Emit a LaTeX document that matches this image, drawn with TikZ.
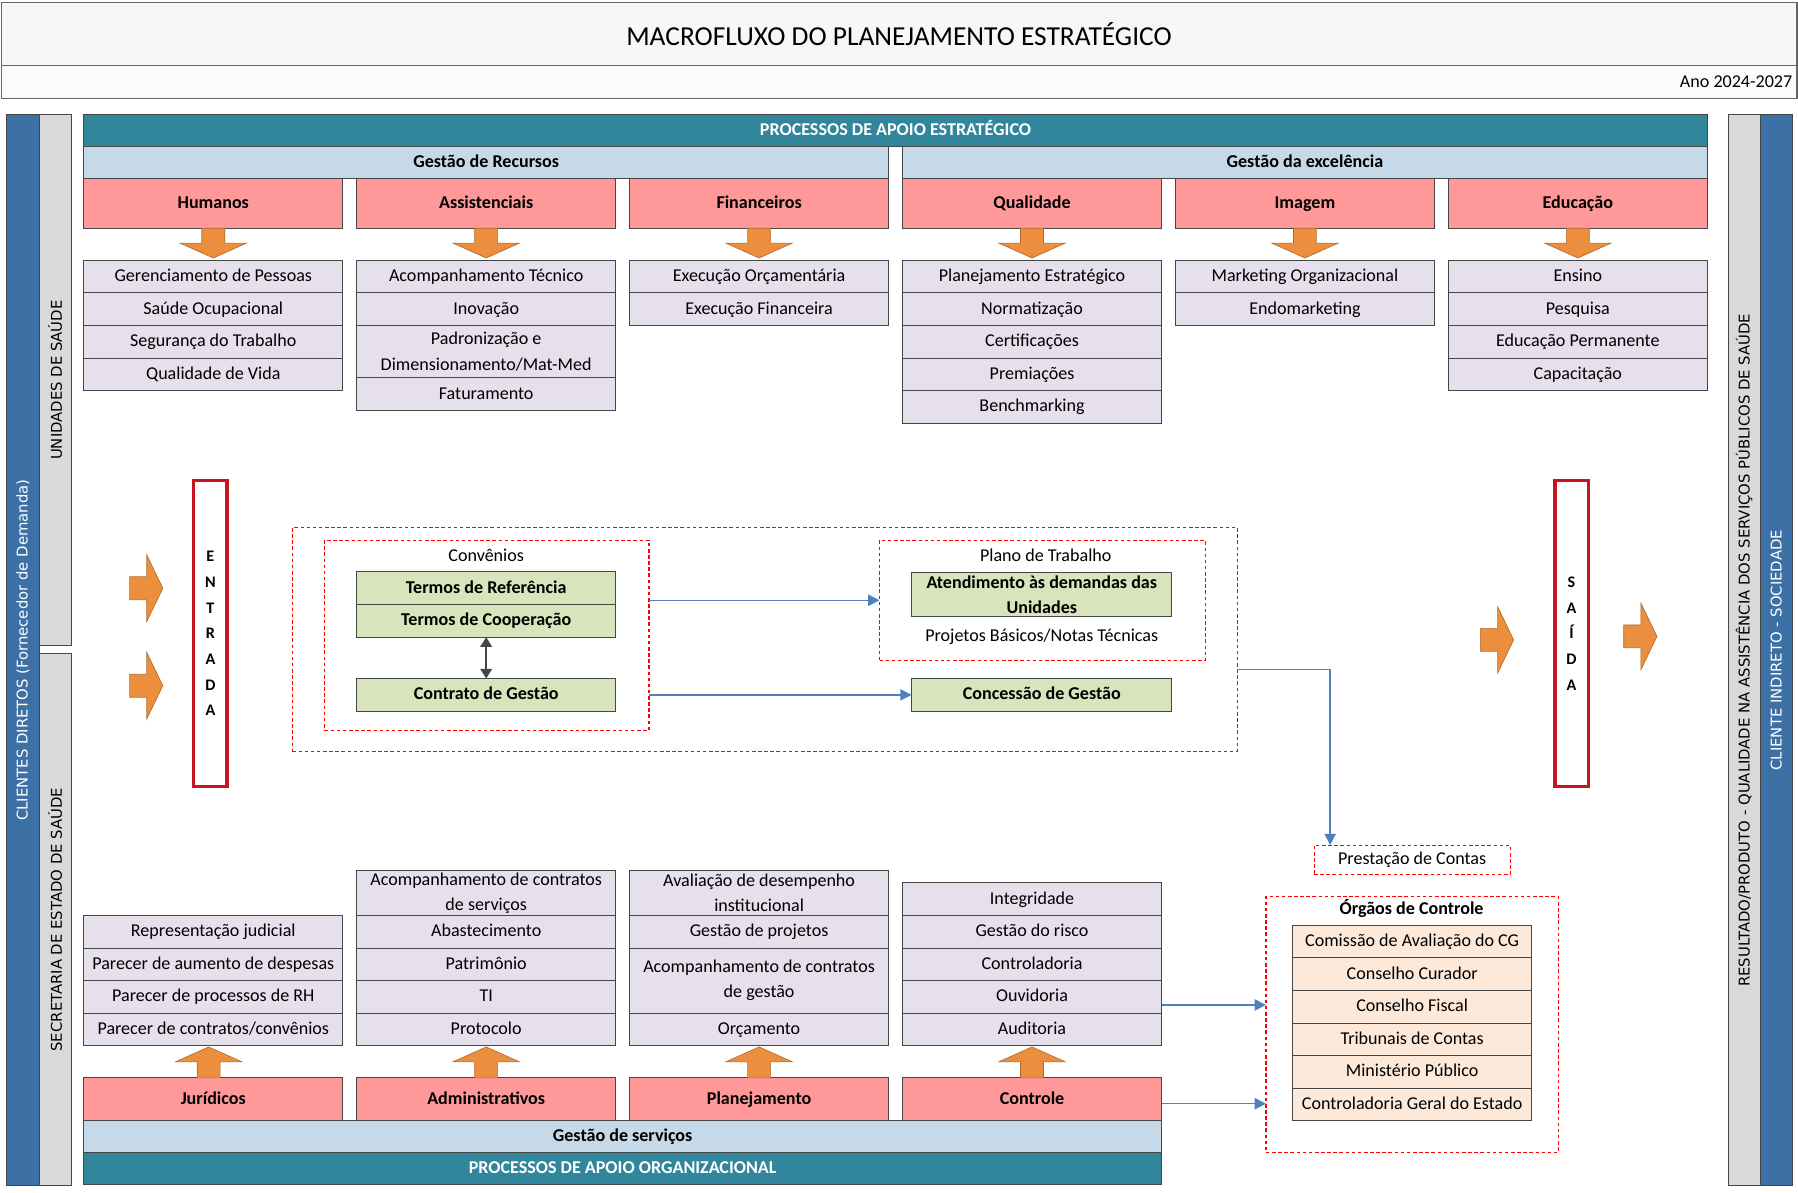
\documentclass[tikz,border=0pt]{standalone}
\usepackage{fontspec}
\setmainfont{Carlito}
\newfontfamily\sidefont{DejaVu Sans}
\usetikzlibrary{arrows.meta,positioning}
\definecolor{cTeal}{RGB}{49,134,155}
\definecolor{cGest}{RGB}{197,217,232}
\definecolor{cPink}{RGB}{255,153,153}
\definecolor{cLav}{RGB}{229,224,236}
\definecolor{cGreen}{RGB}{216,228,188}
\definecolor{cPeach}{RGB}{252,233,218}
\definecolor{cOrange}{RGB}{235,143,62}
\definecolor{cSide}{RGB}{61,112,164}
\definecolor{cGray}{RGB}{217,217,217}
\definecolor{cLink}{RGB}{79,129,189}
\definecolor{cFrame}{RGB}{70,70,70}
\definecolor{cRed}{RGB}{200,20,30}
\def\px{0.025cm}
\def\colw{226}
\def\rowh{28.4}
\newcommand\txtnorm{\fontsize{11.2}{15.6}\selectfont}
\newcommand\txtbold{\fontsize{11.2}{15.6}\selectfont\bfseries}

\begin{document}
\begin{tikzpicture}[x=\px,y=-\px,font=\txtnorm]
  \tikzstyle{every node}=[inner sep=0pt,outer sep=0pt]
  \tikzstyle{cell}=[draw=cFrame,line width=0.6pt,minimum width=\colw*\px,minimum height=\rowh*\px,align=center]
  \tikzstyle{oneline}=[execute at begin node=\strut,execute at end node=\strut]
  \tikzstyle{item}=[cell,oneline,fill=cLav]
  \tikzstyle{itemtwo}=[cell,fill=cLav]
  \tikzstyle{header}=[cell,oneline,fill=cPink,font=\txtbold]
  \tikzstyle{gestbar}=[cell,oneline,fill=cGest,font=\txtbold,minimum height=28*\px]
  \tikzstyle{procbar}=[cell,oneline,fill=cTeal,text=white,font=\txtbold,minimum height=28*\px]
  \tikzstyle{termbox}=[cell,fill=cGreen,font=\txtbold]
  \tikzstyle{orgbox}=[cell,oneline,fill=cPeach,minimum width=209*\px]
  \tikzstyle{sidebar}=[draw=cFrame,line width=0.6pt,rotate=90,minimum height=28*\px,font=\sidefont\fontsize{9.2}{11}\selectfont]
  \tikzstyle{dashbox}=[draw=red,dash pattern=on 2.2pt off 1.6pt,line width=0.7pt]
  \tikzstyle{inout}=[draw=cRed,line width=2pt,minimum width=29*\px,minimum height=267*\px,align=center,font=\fontsize{10}{15.9}\selectfont\bfseries]
  \tikzstyle{orangearrow}=[fill=cOrange,draw=cOrange!75!black,line width=0.4pt]
  \tikzstyle{linkarrow}=[draw=cLink,line width=0.9pt,-{Triangle[length=7pt,width=7pt]}]
  \tikzstyle{dblarrow}=[draw=cFrame,line width=1.5pt,{Triangle[length=6pt,width=7pt]}-{Triangle[length=6pt,width=7pt]}]

  \useasboundingbox (0,0) rectangle (1568,1040);

  % title
  \node[draw=gray!80!black,fill=gray!6,line width=0.8pt,minimum width=1566*\px,minimum height=55*\px,font=\fontsize{17}{20}\selectfont] (title) at (784,29.5) {MACROFLUXO DO PLANEJAMENTO ESTRATÉGICO};
  \node[draw=gray!80!black,fill=gray!3,line width=0.8pt,minimum width=1566*\px,minimum height=29*\px,below=0pt of title] (period) {};
  \node[anchor=east] (year) at (1563,71) {Ano 2024-2027};

  % side bars
  \node[sidebar,fill=cSide,text=white,minimum width=934*\px] (cdir) at (20,567) {CLIENTES DIRETOS (Fornecedor de Demanda)};
  \node[sidebar,fill=cGray,minimum width=463*\px] (unid) at (48,331.5) {UNIDADES DE SAÚDE};
  \node[sidebar,fill=cGray,minimum width=464*\px] (sesa) at (48,802) {SECRETARIA DE ESTADO DE SAÚDE};
  \node[sidebar,fill=cGray,minimum width=934*\px] (result) at (1521,567) {RESULTADO/PRODUTO - QUALIDADE NA ASSISTÊNCIA DOS SERVIÇOS PÚBLICOS DE SAÚDE};
  \node[sidebar,fill=cSide,text=white,minimum width=934*\px] (socied) at (1549,567) {CLIENTE INDIRETO - SOCIEDADE};

  % strategic support
  \node[procbar,minimum width=1416*\px] (apoioest) at (781,114) {PROCESSOS DE APOIO ESTRATÉGICO};
  \node[gestbar,minimum width=702*\px] (gestrec) at (424,142) {Gestão de Recursos};
  \node[gestbar,minimum width=702*\px] (gestexc) at (1138,142) {Gestão da excelência};
  \foreach \n/\x/\t in {hum/186/Humanos,ass/424/Assistenciais,fin/662/Financeiros,qua/900/Qualidade,ima/1138/Imagem,edu/1376/Educação}
    \node[header,minimum height=43*\px] (\n-h) at (\x,177.5) {\t};

  % organizational support
  \node[procbar,minimum width=940*\px] (apoioorg) at (543,1019) {PROCESSOS DE APOIO ORGANIZACIONAL};
  \node[gestbar,minimum width=940*\px] (gestserv) at (543,991) {Gestão de serviços};
  \foreach \n/\x/\t in {jur/186/Jurídicos,adm/424/Administrativos,pla/662/Planejamento,ctl/900/Controle}
    \node[header,minimum height=37*\px] (\n-h) at (\x,958.5) {\t};

  % block arrows
  \foreach \x in {186,424,662,900,1138,1376}
    \filldraw[orangearrow] (\x-10,199) -- (\x+10,199) -- (\x+10,212) -- (\x+29,212) -- (\x,225) -- (\x-29,212) -- (\x-10,212) -- cycle;
  \foreach \x in {182,424,662,900}
    \filldraw[orangearrow] (\x-10,940) -- (\x-10,926) -- (\x-29,926) -- (\x,913) -- (\x+29,926) -- (\x+10,926) -- (\x+10,940) -- cycle;
  \foreach \x/\y in {113/513,113/598,1291/558,1416/555}
    \filldraw[orangearrow] (\x,\y-10) -- (\x+15,\y-10) -- (\x+15,\y-29) -- (\x+29,\y) -- (\x+15,\y+29) -- (\x+15,\y+10) -- (\x,\y+10) -- cycle;

  % item columns
  \foreach \n/\x/\ytop/\entries in {
      hum/186/227/{Gerenciamento de Pessoas,Saúde Ocupacional,Segurança do Trabalho,Qualidade de Vida},
      fin/662/227/{Execução Orçamentária,Execução Financeira},
      qua/900/227/{Planejamento Estratégico,Normatização,Certificações,Premiações,Benchmarking},
      ima/1138/227/{Marketing Organizacional,Endomarketing},
      edu/1376/227/{Ensino,Pesquisa,Educação Permanente,Capacitação},
      jur/186/798.4/{Representação judicial,Parecer de aumento de despesas,Parecer de processos de RH,Parecer de contratos/convênios},
      adm/424/798.4/{Abastecimento,Patrimônio,TI,Protocolo},
      ctl/900/770/{Integridade,Gestão do risco,Controladoria,Ouvidoria,Auditoria}}
    \foreach \t [count=\i] in \entries
      \node[item] (\n-\i) at (\x,\ytop+\rowh*\i-\rowh/2) {\t};

  \node[item] (ass-1) at (424,241.2) {Acompanhamento Técnico};
  \node[item,below=0pt of ass-1] (ass-2) {Inovação};
  \node[itemtwo,below=0pt of ass-2,minimum height=45.6*\px] (ass-3) {Padronização e\\Dimensionamento/Mat-Med};
  \node[item,below=0pt of ass-3] (ass-4) {Faturamento};

  \node[itemtwo,above=0pt of adm-1,minimum height=39.4*\px] (adm-0) {Acompanhamento de contratos\\de serviços};

  \node[item] (pla-4) at (662,897.8) {Orçamento};
  \node[itemtwo,above=0pt of pla-4,minimum height=56.8*\px] (pla-3) {Acompanhamento de contratos\\de gestão};
  \node[item,above=0pt of pla-3] (pla-2) {Gestão de projetos};
  \node[itemtwo,above=0pt of pla-2,minimum height=39.4*\px] (pla-1) {Avaliação de desempenho\\institucional};

  % entry / exit
  \node[inout] (entrada) at (183.5,552.5) {E\\N\\T\\R\\A\\D\\A};
  \node[inout] (saida) at (1370.5,552.5) {S\\A\\Í\\D\\A};

  % contract flow
  \node[dashbox,minimum width=824*\px,minimum height=195*\px] (fluxo) at (667,557.5) {};
  \node[dashbox,minimum width=283*\px,minimum height=166*\px] (conv) at (424.5,554) {};
  \node (conv-t) at (424,484) {Convênios};
  \node[termbox,oneline] (tref) at (424,513) {Termos de Referência};
  \node[termbox,oneline,below=0pt of tref] (tcoop) {Termos de Cooperação};
  \node[termbox,oneline] (cges) at (424,606) {Contrato de Gestão};
  \draw[dblarrow] (tcoop) -- (cges);

  \node[dashbox,minimum width=284*\px,minimum height=105*\px] (plano) at (909,523.5) {};
  \node (plano-t) at (912,484) {Plano de Trabalho};
  \node[termbox,minimum width=227*\px,minimum height=39*\px] (atend) at (908.5,518.5) {Atendimento às demandas das\\Unidades};
  \node (projb) at (908.5,555) {Projetos Básicos/Notas Técnicas};
  \node[termbox,oneline,minimum width=227*\px] (conc) at (908.5,606) {Concessão de Gestão};

  \draw[linkarrow] (conv.east |- plano.west) -- (plano.west);
  \draw[linkarrow] (conv.east |- conc.west) -- (conc.west);

  % accountability
  \coordinate (turn) at (1160,584);
  \node[dashbox,minimum width=171*\px,minimum height=26*\px] (prest) at (1231.5,750) {Prestação de Contas};
  \draw[linkarrow] (fluxo.east |- turn) -- (turn) -- (turn |- prest.north);

  \node[dashbox,minimum width=255*\px,minimum height=223*\px] (orgaos) at (1231.5,893.5) {};
  \node[font=\txtbold] (orgaos-t) at (1231,792) {Órgãos de Controle};
  \foreach \t [count=\i] in {Comissão de Avaliação do CG,Conselho Curador,Conselho Fiscal,Tribunais de Contas,Ministério Público,Controladoria Geral do Estado}
    \node[orgbox] (org-\i) at (1231.5,807+\rowh*\i-\rowh/2) {\t};

  \draw[linkarrow,transform canvas={yshift=-7*\px}] (ctl-4.east) -- (ctl-4.east -| orgaos.west);
  \draw[linkarrow,transform canvas={yshift=-4*\px}] (ctl-h.east) -- (ctl-h.east -| orgaos.west);

\end{tikzpicture}
\end{document}
